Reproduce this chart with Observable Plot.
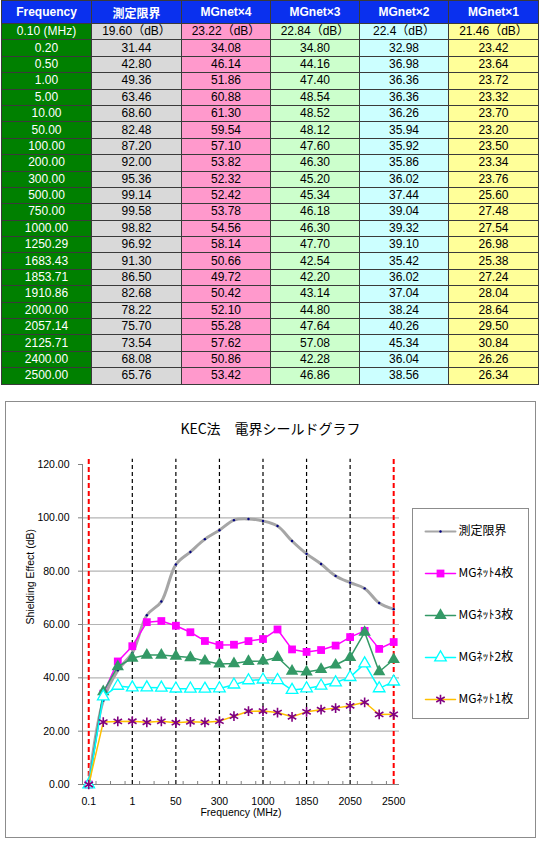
<!DOCTYPE html>
<html><head><meta charset="utf-8">
<script src="https://cdn.jsdelivr.net/npm/d3@7"></script>
<script src="https://cdn.jsdelivr.net/npm/@observablehq/plot@0.6"></script>
<style>
body{margin:0;background:#fff;width:540px;height:842px;position:relative;overflow:hidden;font-family:"Liberation Sans",Arial,"Noto Sans CJK JP",sans-serif;}
#tbl{position:absolute;left:1px;top:0;border-collapse:collapse;table-layout:fixed;width:538px;font-size:12px;}
#tbl td,#tbl th{border:1px solid #3a3a3a;padding:0;text-align:center;white-space:nowrap;overflow:hidden;}
#tbl th{height:22px;background:#0a30ee;color:#fff;font-weight:bold;font-size:12px;font-family:"Liberation Sans",Arial,"Noto Sans CJK JP",sans-serif;}
#tbl td{height:15.4px;line-height:15px;color:#000;}
#chart{position:absolute;left:5px;top:401px;width:529px;height:435px;border:1px solid #8c8c8c;background:#fff;}
#title{position:absolute;left:0;top:16px;width:529px;text-align:center;font-family:"Noto Sans CJK JP",sans-serif;font-size:14px;color:#000;}
#legend{position:absolute;left:406px;top:106px;border:1px solid #8c8c8c;background:#fff;width:115px;height:209px;}
#plot{position:absolute;left:0;top:0;}
</style></head><body>
<table id="tbl"></table>
<div id="chart"><div id="plot"></div><div id="title">KEC法　電界シールドグラフ</div><div id="legend"></div></div>
<script>
// ---- data ----
const headers = ["Frequency","測定限界","MGnet×4","MGnet×3","MGnet×2","MGnet×1"];
const frequencies = ["0.10 (MHz)","0.20","0.50","1.00","5.00","10.00","50.00","100.00","200.00","300.00","500.00","750.00","1000.00","1250.29","1683.43","1853.71","1910.86","2000.00","2057.14","2125.71","2400.00","2500.00"];
const firstRowLabels = ["19.60（dB）","23.22（dB）","22.84（dB）","22.4（dB）","21.46（dB）"];
const limitValues = [19.60,31.44,42.80,49.36,63.46,68.60,82.48,87.20,92.00,95.36,99.14,99.58,98.82,96.92,91.30,86.50,82.68,78.22,75.70,73.54,68.08,65.76];
const mg4Values = [23.22,34.08,46.14,51.86,60.88,61.30,59.54,57.10,53.82,52.32,52.42,53.78,54.56,58.14,50.66,49.72,50.42,52.10,55.28,57.62,50.86,53.42];
const mg3Values = [22.84,34.80,44.16,47.40,48.54,48.52,48.12,47.60,46.30,45.20,45.34,46.18,46.30,47.70,42.54,42.20,43.14,44.80,47.64,57.08,42.28,46.86];
const mg2Values = [22.4,32.98,36.98,36.36,36.36,36.26,35.94,35.92,35.86,36.02,37.44,39.04,39.32,39.10,35.42,36.02,37.04,38.24,40.26,45.34,36.04,38.56];
const mg1Values = [21.46,23.42,23.64,23.72,23.32,23.70,23.20,23.50,23.34,23.76,25.60,27.48,27.54,26.98,25.38,27.24,28.04,28.64,29.50,30.84,26.26,26.34];
const seriesNames = ["測定限界","MGﾈｯﾄ4枚","MGﾈｯﾄ3枚","MGﾈｯﾄ2枚","MGﾈｯﾄ1枚"];
const chartStartValue = 0; // the chart plots the 0.1 MHz point at 0.00
const xTickIndex = [0,3,6,9,12,15,18,21];
const xTickLabels = ["0.1","1","50","300","1000","1850","2050","2500"];
const redLineIndex = [0,21];
const blackLineIndex = [3,6,9,12,15,18];
const yTicks = [0,20,40,60,80,100,120];
const yGrid = [20,40,60,80,100];

// ---- table ----
const colBg = ["#008000","#d9d9d9","#ff99cc","#ccffcc","#ccffff","#ffff99"];
const colW = [90,90,89,89,89,90];
const allValues = [limitValues,mg4Values,mg3Values,mg2Values,mg1Values];
const tbl = document.getElementById("tbl");
let html = "<colgroup>" + colW.map(w=>`<col style="width:${w}px">`).join("") + "</colgroup>";
html += "<tr>" + headers.map(h=>`<th>${h}</th>`).join("") + "</tr>";
frequencies.forEach((f,i)=>{
  html += "<tr>";
  html += `<td style="background:${colBg[0]};color:#fff">${f}</td>`;
  allValues.forEach((vals,k)=>{
    const txt = i===0 ? firstRowLabels[k] : vals[i].toFixed(2);
    html += `<td style="background:${colBg[k+1]}">${txt}</td>`;
  });
  html += "</tr>";
});
tbl.innerHTML = html;

// ---- chart ----
const idx = d3.range(frequencies.length);
const toRows = (vals,name) => idx.map(i=>({i, v: i===0 ? chartStartValue : vals[i], name}));
const limitRows = toRows(limitValues, seriesNames[0]);
const mg4Rows = toRows(mg4Values, seriesNames[1]);
const mg3Rows = toRows(mg3Values, seriesNames[2]);
const mg2Rows = toRows(mg2Values, seriesNames[3]);
const mg1Rows = toRows(mg1Values, seriesNames[4]);
const xDomain = [-0.43, 21.4];
const halfSteps = idx.slice(0,-1).map(i=>i+0.5);

const styles = {
  limit:{stroke:"#a6a6a6", strokeWidth:3, dot:"#000080"},
  mg4:{stroke:"#ff00ff"},
  mg3:{stroke:"#339966"},
  mg2:{stroke:"#00ffff"},
  mg1:{stroke:"#ffc000", marker:"#800080"}
};

const chart = Plot.plot({
  width:529, height:435,
  marginLeft:76, marginRight:136, marginTop:62, marginBottom:53,
  style:{fontFamily:"'Liberation Sans',Arial,'Noto Sans CJK JP',sans-serif", fontSize:"10.5px", background:"transparent", overflow:"visible"},
  x:{type:"linear", domain:xDomain},
  y:{domain:[0,120]},
  marks:[
    Plot.ruleY(yGrid, {stroke:"#b4b4b4", strokeWidth:1.2}),
    Plot.ruleY([0], {stroke:"#808080"}),
    Plot.ruleX([xDomain[0]], {y1:0, y2:120, stroke:"#808080"}),
    Plot.axisY(yTicks, {tickSize:4, tickPadding:9, tickFormat:d=>d.toFixed(2), label:null, stroke:"#808080", fill:"#000"}),
    Plot.axisX(halfSteps, {tickSize:-3, tickFormat:()=>"", label:null, stroke:"#808080"}),
    Plot.axisX(xTickIndex, {tickSize:0, tickPadding:13, tickFormat:(d)=>xTickLabels[xTickIndex.indexOf(d)], label:null, fill:"#000"}),
    Plot.text(["Shielding Effect (dB)"], {frameAnchor:"left", rotate:-90, dx:-52, fontSize:10.5, fill:"#000"}),
    Plot.text(["Frequency (MHz)"], {frameAnchor:"bottom", dy:31, fontSize:10.5, fill:"#000"}),
    Plot.ruleX(blackLineIndex, {y1:0, y2:122, stroke:"#000", strokeWidth:1.2, strokeDasharray:"4,3"}),
    Plot.ruleX(redLineIndex, {y1:0, y2:122, stroke:"#ff0000", strokeWidth:2, strokeDasharray:"5,3"}),
    // 測定限界
    Plot.line(limitRows, {x:"i", y:"v", stroke:styles.limit.stroke, strokeWidth:styles.limit.strokeWidth, curve:"catmull-rom"}),
    Plot.dot(limitRows, {x:"i", y:"v", r:1.2, fill:styles.limit.dot}),
    // MG 4
    Plot.line(mg4Rows, {x:"i", y:"v", stroke:styles.mg4.stroke, strokeWidth:1.5}),
    Plot.dot(mg4Rows, {x:"i", y:"v", symbol:"square", r:4.4, fill:styles.mg4.stroke}),
    // MG 3
    Plot.line(mg3Rows, {x:"i", y:"v", stroke:styles.mg3.stroke, strokeWidth:1.5}),
    Plot.dot(mg3Rows, {x:"i", y:"v", symbol:"triangle", r:4.6, fill:styles.mg3.stroke}),
    // MG 2
    Plot.line(mg2Rows, {x:"i", y:"v", stroke:styles.mg2.stroke, strokeWidth:1.5}),
    Plot.dot(mg2Rows, {x:"i", y:"v", symbol:"triangle", r:4.3, fill:"#fff", stroke:styles.mg2.stroke, strokeWidth:1.3}),
    // MG 1
    Plot.line(mg1Rows, {x:"i", y:"v", stroke:styles.mg1.stroke, strokeWidth:1.5}),
    Plot.dot(mg1Rows, {x:"i", y:"v", symbol:"asterisk", r:4.6, stroke:styles.mg1.marker, strokeWidth:1.6})
  ]
});
document.getElementById("plot").appendChild(chart);

// ---- legend ----
const legendLine = [];
seriesNames.forEach(n=>{ legendLine.push({x:0,name:n}); legendLine.push({x:1,name:n}); });
const legendStroke = {[seriesNames[0]]:"#a6a6a6",[seriesNames[1]]:"#ff00ff",[seriesNames[2]]:"#339966",[seriesNames[3]]:"#00ffff",[seriesNames[4]]:"#ffc000"};
const mid = seriesNames.map(n=>({x:0.5,name:n}));
const legend = Plot.plot({
  width:115, height:209,
  marginLeft:12, marginRight:73, marginTop:21, marginBottom:19,
  style:{fontFamily:"'Noto Sans CJK JP','Liberation Sans',sans-serif", fontSize:"12px", background:"transparent", overflow:"visible"},
  x:{domain:[0,1], axis:null},
  y:{type:"point", domain:seriesNames, padding:0, axis:null},
  marks:[
    Plot.line(legendLine, {x:"x", y:"name", z:"name", stroke:d=>legendStroke[d.name], strokeWidth:d=>d.name===seriesNames[0]?2:1.5}),
    Plot.dot(mid.filter(d=>d.name===seriesNames[0]), {x:"x", y:"name", r:1.2, fill:"#000080"}),
    Plot.dot(mid.filter(d=>d.name===seriesNames[1]), {x:"x", y:"name", symbol:"square", r:4.4, fill:"#ff00ff"}),
    Plot.dot(mid.filter(d=>d.name===seriesNames[2]), {x:"x", y:"name", symbol:"triangle", r:4.6, fill:"#339966"}),
    Plot.dot(mid.filter(d=>d.name===seriesNames[3]), {x:"x", y:"name", symbol:"triangle", r:4.3, fill:"#fff", stroke:"#00ffff", strokeWidth:1.3}),
    Plot.dot(mid.filter(d=>d.name===seriesNames[4]), {x:"x", y:"name", symbol:"asterisk", r:4.6, stroke:"#800080", strokeWidth:1.6}),
    Plot.text(seriesNames, {x:1, y:d=>d, text:d=>d, textAnchor:"start", dx:3, fontSize:12, fill:"#000"})
  ]
});
document.getElementById("legend").appendChild(legend);
</script>
</body></html>
